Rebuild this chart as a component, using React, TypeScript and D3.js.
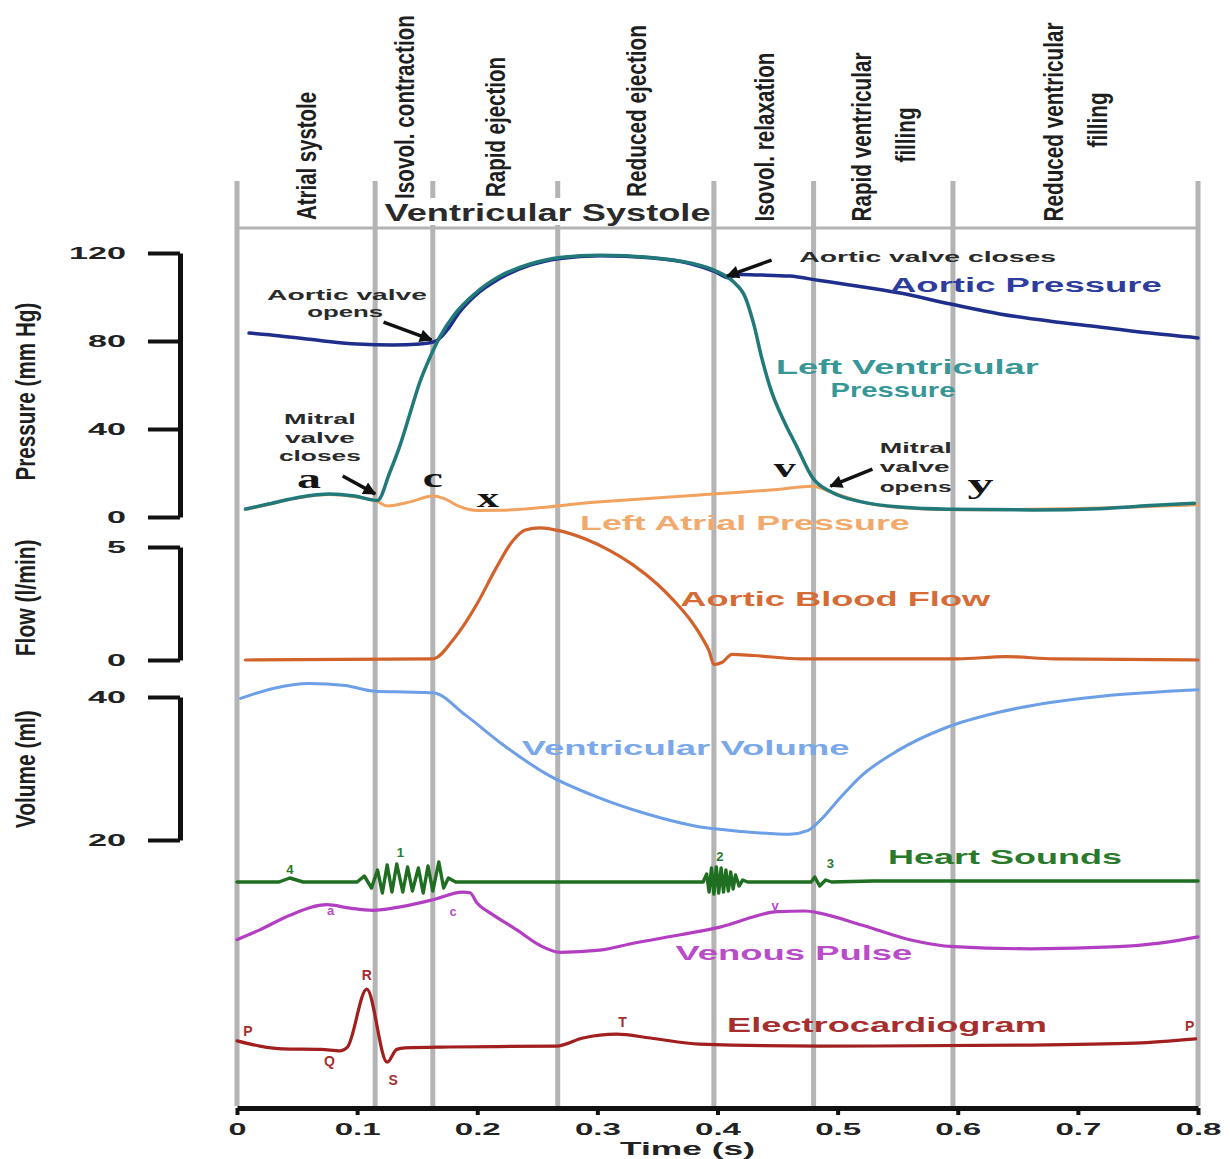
import { useEffect, useRef } from 'react';
import * as d3 from 'd3';

// cardiac cycle phases (s)
const phaseBounds = [0, 0.115, 0.163, 0.267, 0.397, 0.48, 0.596, 0.8];
const phaseLabels = [
  ['Atrial systole'],
  ['Isovol. contraction'],
  ['Rapid ejection'],
  ['Reduced ejection'],
  ['Isovol. relaxation'],
  ['Rapid ventricular', 'filling'],
  ['Reduced ventricular', 'filling'],
];
const timeTicks = [0, 0.1, 0.2, 0.3, 0.4, 0.5, 0.6, 0.7, 0.8];
const pressureTicks = [0, 40, 80, 120];
const flowTicks = [0, 5];
const volumeTicks = [20, 40];

// [time s, mmHg]
const aorticPressure: [number, number][] = [
  [0.01, 83.6], [0.036, 82.3], [0.069, 80.2], [0.1, 78.6], [0.13, 78.2], [0.152, 78.6],
  [0.165, 79.8], [0.175, 85], [0.185, 93], [0.198, 100.5], [0.219, 108.5], [0.244, 114.5],
  [0.269, 117.5], [0.302, 118.8], [0.344, 117.8], [0.377, 115.2], [0.398, 111.5], [0.409, 108.8],
  [0.418, 110.2], [0.435, 110], [0.46, 109.5], [0.485, 107.5], [0.51, 105.5], [0.552, 101.8],
  [0.594, 96.8], [0.635, 92.3], [0.677, 89], [0.718, 86.4], [0.76, 83.6], [0.8, 81.4],
];
const lvPressure: [number, number][] = [
  [0.007, 3.6], [0.027, 6], [0.052, 9], [0.077, 10.5], [0.098, 9.5], [0.117, 7.5], [0.127, 20],
  [0.136, 33], [0.144, 47], [0.152, 61], [0.161, 73], [0.169, 82], [0.181, 92], [0.198, 101.5],
  [0.219, 109.5], [0.244, 115], [0.269, 118], [0.302, 119], [0.344, 118], [0.377, 115.5],
  [0.398, 112], [0.413, 107], [0.423, 100], [0.43, 88], [0.437, 72], [0.445, 57], [0.455, 44],
  [0.466, 32], [0.479, 18], [0.496, 11], [0.519, 7], [0.552, 4.5], [0.594, 3.5], [0.663, 3.2],
  [0.718, 3.8], [0.76, 5.2], [0.797, 6.2],
];
const laPressure: [number, number][] = [
  [0.007, 3.4], [0.027, 5.8], [0.052, 8.8], [0.077, 10.2], [0.098, 9.2], [0.117, 7], [0.125, 5],
  [0.145, 7], [0.163, 9.5], [0.172, 8.5], [0.185, 4.8], [0.2, 3], [0.22, 3.1], [0.3, 6.8],
  [0.385, 10], [0.45, 12.5], [0.479, 14], [0.496, 11], [0.519, 7], [0.552, 4.3], [0.6, 3.3],
  [0.7, 3.9], [0.8, 5.6],
];
// [time s, l/min]
const aorticFlow: [number, number][] = [
  [0.007, 0], [0.163, 0.05], [0.18, 0.9], [0.2, 2.5], [0.215, 4], [0.23, 5.3], [0.24, 5.75],
  [0.252, 5.85], [0.27, 5.7], [0.29, 5.35], [0.31, 4.85], [0.33, 4.2], [0.35, 3.35],
  [0.365, 2.55], [0.377, 1.8], [0.387, 1.0], [0.393, 0.4], [0.397, -0.2], [0.404, -0.1],
  [0.412, 0.25], [0.43, 0.2], [0.47, 0.05], [0.6, 0.05], [0.64, 0.15], [0.68, 0.05], [0.8, 0],
];
// [time s, ml]
const ventVolume: [number, number][] = [
  [0.003, 39.8], [0.03, 41.2], [0.06, 41.9], [0.09, 41.6], [0.115, 40.8], [0.14, 40.7],
  [0.163, 40.6], [0.19, 37.5], [0.22, 33.5], [0.26, 29], [0.3, 26], [0.34, 23.7], [0.38, 22],
  [0.42, 21.2], [0.46, 20.8], [0.475, 21.3], [0.487, 23], [0.5, 25.5], [0.52, 29], [0.55, 32.5],
  [0.59, 35.7], [0.635, 37.9], [0.68, 39.3], [0.72, 40.1], [0.8, 41],
];
// [time s, amplitude]
const heartSounds: [number, number][] = [
  [0, 0], [0.035, 0], [0.044, 0.2], [0.055, 0], [0.1, 0], [0.106, 0.3], [0.112, -0.3],
  [0.117, 0.6], [0.121, -0.55], [0.125, 0.85], [0.129, -0.5], [0.133, 0.9], [0.138, -0.5],
  [0.142, 0.75], [0.146, -0.45], [0.151, 0.7], [0.155, -0.55], [0.159, 0.8], [0.163, -0.45],
  [0.168, 1.0], [0.172, -0.3], [0.176, 0.2], [0.182, 0], [0.388, 0], [0.391, 0.4],
  [0.393, -0.5], [0.395, 0.7], [0.397, -0.6], [0.399, 0.75], [0.401, -0.55], [0.403, 0.7],
  [0.405, -0.5], [0.407, 0.6], [0.409, -0.45], [0.411, 0.5], [0.413, -0.35], [0.415, 0.35],
  [0.418, -0.2], [0.421, 0.1], [0.425, 0], [0.478, 0], [0.481, 0.25], [0.485, -0.2],
  [0.49, 0.1], [0.495, 0], [0.53, 0.05], [0.8, 0.05],
];
// [time s, mmHg]
const venousPulse: [number, number][] = [
  [0, 2.9], [0.019, 4.3], [0.044, 6.4], [0.075, 7.9], [0.094, 7.4], [0.113, 7.1], [0.136, 7.6],
  [0.163, 8.6], [0.188, 9.7], [0.194, 9.6], [0.2, 8.1], [0.211, 6.7], [0.233, 4.3], [0.252, 2.1],
  [0.269, 1.1], [0.302, 1.4], [0.33, 2.4], [0.369, 3.6], [0.402, 4.7], [0.45, 6.9], [0.473, 7.0],
  [0.485, 6.7], [0.52, 5], [0.56, 2.9], [0.597, 1.9], [0.661, 1.6], [0.734, 1.9], [0.768, 2.4],
  [0.8, 3.3],
];
// [time s, mV]
const ecg: [number, number][] = [
  [0, 0.13], [0.019, 0.02], [0.038, -0.04], [0.07, -0.05], [0.086, -0.08], [0.092, 0.0],
  [0.108, 1.22], [0.125, -0.32], [0.133, -0.05], [0.14, -0.02], [0.177, 0], [0.266, 0.02],
  [0.288, 0.19], [0.316, 0.27], [0.344, 0.19], [0.385, 0.06], [0.485, 0.02], [0.661, 0.04],
  [0.748, 0.08], [0.798, 0.17],
];

const sans = "'Liberation Sans', Arial, Helvetica, sans-serif";
const narrow = "'Liberation Sans Narrow', 'Liberation Sans', Arial, sans-serif";
const serif = "'Liberation Serif', 'Times New Roman', serif";

type TxtOpts = {
  size: number; len?: number; fill?: string; anchor?: string;
  weight?: string; family?: string; rot?: boolean;
};

const App = () => {
  const svgRef = useRef<SVGSVGElement>(null);

  useEffect(() => {
    const svg = d3.select(svgRef.current);
    svg.selectAll('*').remove();

    const x = d3.scaleLinear().domain([0, 0.8]).range([237, 1198]);
    const yP = d3.scaleLinear().domain([0, 120]).range([517, 253]);
    const yF = d3.scaleLinear().domain([0, 5]).range([660, 547]);
    const yV = d3.scaleLinear().domain([20, 40]).range([840, 697]);
    const yH = d3.scaleLinear().domain([-1, 1]).range([902, 862]);
    const yJ = d3.scaleLinear().domain([0, 10]).range([960, 890]);
    const yE = d3.scaleLinear().domain([0, 1]).range([1047, 999.5]);

    // text stretched/squeezed to a given length with a transform, like the picture
    const txt = (g: any, s: string, px: number, py: number, o: TxtOpts) => {
      const t = g.append('text')
        .text(s)
        .attr('font-family', o.family ?? sans)
        .attr('font-size', o.size)
        .attr('font-weight', o.weight ?? 'bold')
        .attr('fill', o.fill ?? '#222')
        .attr('text-anchor', o.anchor ?? 'start');
      let k = 1;
      if (o.len) {
        const w = (t.node() as SVGTextElement).getComputedTextLength();
        if (w > 0) k = o.len / w;
      }
      t.attr('transform', `translate(${px},${py})${o.rot ? ' rotate(-90)' : ''} scale(${k},1)`);
      return t;
    };

    const defs = svg.append('defs');
    defs.append('marker')
      .attr('id', 'arrowHead')
      .attr('viewBox', '0 0 10 10')
      .attr('refX', 9).attr('refY', 5)
      .attr('markerWidth', 17).attr('markerHeight', 13)
      .attr('markerUnits', 'userSpaceOnUse')
      .attr('orient', 'auto')
      .append('path').attr('d', 'M0,0 L10,5 L0,10 Z').attr('fill', '#111');

    // phase grid
    const grid = svg.append('g');
    grid.selectAll('line').data(phaseBounds).join('line')
      .attr('x1', d => x(d)).attr('x2', d => x(d))
      .attr('y1', 181).attr('y2', 1106)
      .attr('stroke', '#b4b4b4').attr('stroke-width', 5);
    grid.append('line')
      .attr('x1', x(0)).attr('x2', x(0.8) + 2).attr('y1', 228).attr('y2', 228)
      .attr('stroke', '#b4b4b4').attr('stroke-width', 3);

    // header
    const head = svg.append('g');
    head.append('rect')
      .attr('x', x(phaseBounds[1]) + 4).attr('y', 198)
      .attr('width', x(phaseBounds[4]) - x(phaseBounds[1]) - 8).attr('height', 27)
      .attr('fill', '#fff');
    txt(head, 'Ventricular Systole', (x(phaseBounds[1]) + x(phaseBounds[4])) / 2 + 3, 221,
      { size: 23, len: 326, fill: '#2a2a2a', anchor: 'middle' });

    const headLayout = [
      { mid: [156], len: [128] },
      { mid: [107], len: [184] },
      { mid: [127], len: [140] },
      { mid: [111], len: [172] },
      { mid: [137], len: [169] },
      { mid: [137, 135], len: [169, 55] },
      { mid: [122, 120], len: [199, 55] },
    ];
    phaseLabels.forEach((lines, i) => {
      const c = (x(phaseBounds[i]) + x(phaseBounds[i + 1])) / 2;
      lines.forEach((s, j) => {
        const off = lines.length === 1 ? 0 : (j === 0 ? -22 : 22);
        txt(head, s, c + off + 10, headLayout[i].mid[j], {
          size: 28, len: headLayout[i].len[j], anchor: 'middle', rot: true,
          family: narrow, weight: 'bold', fill: '#1e1e1e',
        });
      });
    });

    // left axes
    const styleAxis = (g: any, lens: (s: string) => number) => {
      g.select('.domain').attr('stroke', '#111').attr('stroke-width', 5);
      g.selectAll('.tick line').attr('stroke', '#111').attr('stroke-width', 4);
      g.selectAll('.tick text')
        .attr('font-family', sans).attr('font-weight', 'bold').attr('font-size', 17)
        .attr('fill', '#222')
        .attr('textLength', (d: any, i: number, n: any) => lens(n[i].textContent))
        .attr('lengthAdjust', 'spacingAndGlyphs');
    };
    const leftLen = (s: string) => s.length * 19;
    [[yP, pressureTicks], [yF, flowTicks], [yV, volumeTicks]].forEach(([sc, tv]: any) => {
      const g = svg.append('g').attr('transform', 'translate(180,0)')
        .call(d3.axisLeft(sc).tickValues(tv).tickFormat(d3.format('d'))
          .tickSize(32).tickSizeOuter(0).tickPadding(22));
      styleAxis(g, leftLen);
    });

    const axTitle = { size: 27, anchor: 'middle', rot: true, family: narrow, weight: 'bold', fill: '#1e1e1e' };
    txt(svg, 'Pressure (mm Hg)', 35, yP(57), { ...axTitle, len: 178 });
    txt(svg, 'Flow (l/min)', 35, yF(2.75), { ...axTitle, len: 117 });
    txt(svg, 'Volume (ml)', 35, yV(29.9), { ...axTitle, len: 118 });

    // bottom axis
    const xg = svg.append('g').attr('transform', 'translate(0,1108)')
      .call(d3.axisBottom(x).tickValues(timeTicks).tickSize(7).tickSizeOuter(0).tickPadding(8)
        .tickFormat((d: any) => (d === 0 ? '0' : d3.format('.1f')(d))));
    styleAxis(xg, (s: string) => (s.length === 1 ? 18 : 46));
    txt(svg, 'Time (s)', x(0.375), 1155, { size: 18, len: 135, anchor: 'middle' });

    // curves
    const plot = svg.append('g').attr('fill', 'none')
      .attr('stroke-linejoin', 'round').attr('stroke-linecap', 'round');
    const draw = (data: [number, number][], sy: any, color: string, w: number, curve: any = d3.curveMonotoneX) => {
      const line = d3.line<[number, number]>().x(d => x(d[0])).y(d => sy(d[1])).curve(curve);
      plot.append('path').datum(data).attr('d', line).attr('stroke', color).attr('stroke-width', w);
    };
    draw(laPressure, yP, '#f2a25f', 3);
    draw(aorticPressure, yP, '#1f2d8c', 3.5);
    draw(lvPressure, yP, '#21797a', 3.5);
    draw(aorticFlow, yF, '#d2622b', 3.2);
    draw(ventVolume, yV, '#6c9fe6', 3);
    draw(heartSounds, yH, '#1f6e22', 3.4, d3.curveLinear);
    draw(venousPulse, yJ, '#b23fc2', 3.2);
    draw(ecg, yE, '#a11f1f', 3.2);

    // arrows
    const arrows = svg.append('g');
    const arrow = (t0: number, v0: number, t1: number, v1: number) => {
      arrows.append('line')
        .attr('x1', x(t0)).attr('y1', yP(v0)).attr('x2', x(t1)).attr('y2', yP(v1))
        .attr('stroke', '#111').attr('stroke-width', 3.5)
        .attr('marker-end', 'url(#arrowHead)');
    };
    arrow(0.122, 88.6, 0.162, 80.5);
    arrow(0.088, 18.6, 0.115, 10.5);
    arrow(0.445, 116.8, 0.408, 109.5);
    arrow(0.529, 21.8, 0.494, 14);

    // annotations
    const ann = svg.append('g');
    const small = { size: 15, fill: '#2a2a2a' };
    txt(ann, 'Aortic valve', x(0.0916), yP(98.6), { ...small, len: 160, anchor: 'middle' });
    txt(ann, 'opens', x(0.09), yP(90.9), { ...small, len: 76, anchor: 'middle' });
    txt(ann, 'Mitral', x(0.069), yP(42.3), { ...small, len: 72, anchor: 'middle' });
    txt(ann, 'valve', x(0.069), yP(33.6), { ...small, len: 70, anchor: 'middle' });
    txt(ann, 'closes', x(0.069), yP(25.3), { ...small, len: 82, anchor: 'middle' });
    txt(ann, 'Aortic valve closes', x(0.575), yP(115.9), { ...small, len: 257, anchor: 'middle' });
    txt(ann, 'Mitral', x(0.535), yP(29.1), { ...small, len: 72 });
    txt(ann, 'valve', x(0.535), yP(20.5), { ...small, len: 70 });
    txt(ann, 'opens', x(0.535), yP(11.4), { ...small, len: 72 });

    const big = { size: 27, family: serif, anchor: 'middle', fill: '#151515' };
    txt(ann, 'a', x(0.06), yP(13), { ...big, len: 24 });
    txt(ann, 'c', x(0.163), yP(13.6), { ...big, len: 20 });
    txt(ann, 'x', x(0.209), yP(4.5), { ...big, len: 22 });
    txt(ann, 'v', x(0.456), yP(18.2), { ...big, len: 22 });
    txt(ann, 'y', x(0.619), yP(10.9), { ...big, len: 26 });

    txt(ann, 'Aortic Pressure', x(0.5436), yP(102.3), { size: 21, len: 272, fill: '#2e3c9e' });
    txt(ann, 'Left Ventricular', x(0.558), yP(65), { size: 21, len: 263, fill: '#379696', anchor: 'middle' });
    txt(ann, 'Pressure', x(0.546), yP(54.5), { size: 21, len: 125, fill: '#379696', anchor: 'middle' });
    txt(ann, 'Left Atrial Pressure', x(0.2855), yP(-5.9), { size: 21, len: 330, fill: '#f2aa6c' });
    txt(ann, 'Aortic Blood Flow', x(0.369), yF(2.39), { size: 21, len: 310, fill: '#d66b36' });
    txt(ann, 'Ventricular Volume', x(0.237), yV(31.9), { size: 21, len: 328, fill: '#7aa8ea' });
    txt(ann, 'Heart Sounds', x(0.542), yH(0.9), { size: 21, len: 234, fill: '#2a7a2c' });
    txt(ann, 'Venous Pulse', x(0.365), yJ(0), { size: 21, len: 237, fill: '#b94cc8' });
    txt(ann, 'Electrocardiogram', x(0.408), yE(0.32), { size: 21, len: 320, fill: '#a72e2e' });

    const hs = { size: 13, fill: '#2a7a2c', anchor: 'middle' };
    txt(ann, '4', x(0.044), yH(0.4), hs);
    txt(ann, '1', x(0.136), yH(1.25), hs);
    txt(ann, '2', x(0.402), yH(1.05), hs);
    txt(ann, '3', x(0.494), yH(0.7), hs);

    const vp = { size: 13, fill: '#b94cc8', anchor: 'middle' };
    txt(ann, 'a', x(0.078), yJ(6.4), vp);
    txt(ann, 'c', x(0.18), yJ(6.3), vp);
    txt(ann, 'v', x(0.448), yJ(7.1), vp);

    const ep = { size: 14, fill: '#a72e2e', anchor: 'middle' };
    txt(ann, 'P', x(0.009), yE(0.23), ep);
    txt(ann, 'Q', x(0.077), yE(-0.4), ep);
    txt(ann, 'R', x(0.108), yE(1.41), ep);
    txt(ann, 'S', x(0.13), yE(-0.8), ep);
    txt(ann, 'T', x(0.321), yE(0.42), ep);
    txt(ann, 'P', x(0.793), yE(0.34), ep);
  }, []);

  return (
    <svg
      ref={svgRef}
      width={1230}
      height={1159}
      style={{ position: 'absolute', left: 0, top: 0, background: '#fff' }}
    />
  );
};

export default App;
